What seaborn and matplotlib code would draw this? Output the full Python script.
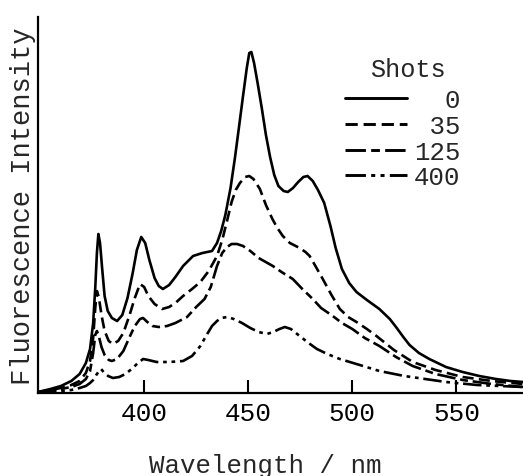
import numpy as np
import pandas as pd
import matplotlib
matplotlib.use("Agg")
import matplotlib.pyplot as plt
import seaborn as sns

# ---- data ----
shots = [0, 35, 125, 400]

wl_0 = [349, 355, 360, 365, 369, 372, 374, 375.5, 376.5, 377.3, 378, 378.8, 379.8, 381, 382.5, 384.5,
        387, 389.5, 392, 394.5, 396.5, 398.6, 400.5, 402.5, 405, 407, 409, 412, 415, 418.7, 423.5, 428,
        432.6, 435, 437, 439, 441.5, 443.6, 445.5, 447.5, 449.3, 450.5, 451.5, 452.8, 454.5, 456.5, 458.5,
        460.5, 462.5, 464.5, 467, 469, 471.5, 474, 476.5, 478.5, 481, 483.5, 486.5, 489.5, 492, 495,
        498.5, 502, 507, 513, 518, 521, 524.5, 527.5, 532, 537, 545, 553, 561, 569, 576, 582]
int_0 = [1, 4, 7, 12, 19, 30, 44, 70, 105, 140, 159, 150, 125, 97, 82, 75,
         72, 78, 95, 120, 143, 156, 150, 133, 115, 107, 104, 108, 116, 127, 137, 140,
         142, 150, 162, 178, 205, 235, 265, 297, 325, 340, 341, 330, 310, 285, 258,
         236, 218, 207, 202, 201, 205, 211, 216, 217, 212, 203, 190, 167, 145, 124,
         110, 101, 93, 84, 74, 66, 56, 48, 40, 34, 26, 21, 17, 14, 12, 11]

wl_35 = [349, 355, 360, 365, 369, 372, 374, 375.5, 376.5, 377.3, 378.2, 379.5, 381, 383, 385, 387.5,
         390, 393, 395.5, 398, 400, 402, 405, 408.6, 412, 415, 418.7, 423, 427, 431, 435, 437.5,
         439.8, 442, 444, 446, 448.5, 450.5, 452.5, 455.6, 458.5, 461.6, 464, 466.6, 470, 474.7,
         477.5, 479.5, 482, 485.8, 490, 494, 498, 502, 507, 511.6, 520, 529, 540, 553, 567, 582]
int_35 = [1, 3, 5, 8, 12, 20, 32, 55, 85, 102, 96, 78, 62, 52, 49, 52,
          60, 78, 95, 109, 106, 97, 89, 84, 86, 90, 97, 104, 111, 122, 137, 153,
          172, 191, 203, 210, 216, 217, 214, 204, 188, 174, 165, 157, 150, 145,
          141, 137, 128, 114, 98, 84, 76, 71, 64, 57, 43, 31, 23, 16, 12, 9]

wl_125 = [349, 355, 360, 365, 369, 372, 374, 375.5, 376.5, 377.3, 378.2, 379.5, 381, 383, 384.5, 387,
          390, 393, 395.5, 398, 399.5, 401.5, 404, 407, 411, 415, 420.6, 425, 429, 432, 435, 437.5,
          439.8, 442, 444.6, 447.5, 451, 455, 461.8, 466, 471.4, 476, 481, 485, 490.6, 495, 500,
          506, 513, 521, 529, 540, 553, 567, 582]
int_125 = [0.5, 2, 4, 6, 9, 14, 22, 40, 58, 62, 57, 46, 38, 33, 32, 34,
           42, 56, 67, 74, 75, 71, 67, 66, 67, 70, 76, 86, 94, 106, 127, 140,
           146, 149, 149, 147, 142, 135, 127, 121, 114, 104, 94, 85, 77, 70, 64,
           55, 47, 36, 27, 19, 13, 9, 6]

wl_400 = [349, 355, 360, 365, 369, 372, 374, 375.5, 377, 378.3, 379.3, 380.5, 382.7, 385, 388, 391,
          394, 397, 399.5, 402, 406, 412, 418.7, 423, 427, 430, 432.6, 435, 437, 440, 443, 447, 451,
          455, 459, 462, 465, 467.6, 470.5, 474.7, 479, 483, 488, 494, 502, 513, 525, 545, 560, 582]
int_400 = [0.3, 1, 2, 3, 5, 7, 10, 13, 18, 22, 24, 21, 17, 15, 16, 19,
           24, 30, 34, 33, 31, 31, 32, 37, 47, 58, 67, 72, 75, 76, 74, 70, 65,
           61, 59, 61, 64, 66, 64, 57, 50, 44, 39, 34, 29, 22, 17, 11, 8, 6]

x_ticks = [400, 450, 500, 550]

# ---- build long-form table ----
labels = [f"{s:>3}" for s in shots]
frames = []
for lab, wl, it in zip(labels, [wl_0, wl_35, wl_125, wl_400], [int_0, int_35, int_125, int_400]):
    frames.append(pd.DataFrame({"Wavelength": wl, "Intensity": it, "Shots": lab}))
df = pd.concat(frames, ignore_index=True)

sns.set_style("ticks")
plt.rcParams["font.family"] = ["Liberation Mono", "DejaVu Sans Mono"]

W, H = 523, 477
fig = plt.figure(figsize=(W / 100, H / 100), dpi=100)
ax = fig.add_axes([38 / W, 1 - 394 / H, 1 - 38 / W, (394 - 18) / H])

lw = 1.9
dashes = {labels[0]: "",
          labels[1]: (4.2, 2.0),
          labels[2]: (7, 1.8, 3, 1.8),
          labels[3]: (7, 1.8, 1.4, 1.8, 1.4, 1.8)}
sns.lineplot(data=df, x="Wavelength", y="Intensity", style="Shots", style_order=labels,
             dashes=dashes, color="black", linewidth=lw, estimator=None, sort=False,
             ax=ax, legend=True)

ax.set_xlim(349, 582)
ax.set_ylim(0, 376)
ax.set_xticks(x_ticks)
ax.set_xticklabels([str(t) for t in x_ticks], fontsize=18.7)
ax.set_yticks([])
ax.tick_params(axis="x", direction="in", length=9.5, width=1.5, pad=6, colors="black")
for s in ["top", "right"]:
    ax.spines[s].set_visible(False)
for s in ["left", "bottom"]:
    ax.spines[s].set_linewidth(1.6)
    ax.spines[s].set_color("black")

ax.set_xlabel("Wavelength / nm", fontsize=18.6)
ax.xaxis.set_label_coords((265 - 38) / 485, (394 - 466) / 376)
ax.xaxis.label.set_va("center")
ax.set_ylabel("Fluorescence Intensity", fontsize=19.5)
ax.yaxis.set_label_coords((23 - 38) / 485, 0.5)
ax.yaxis.label.set_va("center")

handles, labs = ax.get_legend_handles_labels()
for h in handles:
    h.set_linewidth(lw + 0.2)
leg = ax.legend(handles, labs, loc="upper left",
                bbox_to_anchor=(345 / W, 1 - 89 / H), bbox_transform=fig.transFigure,
                frameon=False, fontsize=18.5, handlelength=2.41,
                handletextpad=0.27, labelspacing=0.07, borderpad=0, borderaxespad=0)
fig.text(408 / W, 1 - 70 / H, "Shots", fontsize=18.2, ha="center", va="center")

fig.savefig("out.png", dpi=100)
